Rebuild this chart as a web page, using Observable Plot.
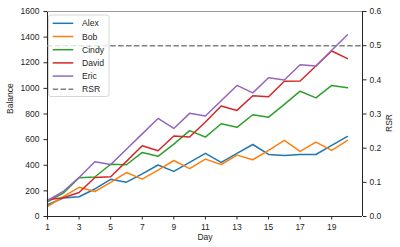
<!DOCTYPE html>
<html><head><meta charset="utf-8">
<script src="https://cdn.jsdelivr.net/npm/d3@7"></script>
<script src="https://cdn.jsdelivr.net/npm/@observablehq/plot@0.6"></script>
<style>html,body{margin:0;padding:0;background:#fff} svg{display:block}</style>
</head><body><div id="chart"></div>
<script>
const days  = [1,2,3,4,5,6,7,8,9,10,11,12,13,14,15,16,17,18,19,20];
const alex  = [92,144,154,215,290,268,333,402,352,422,492,422,492,562,484,477,484,484,555,625];
const bob   = [78,155,228,195,267,343,292,362,437,374,448,406,479,443,516,594,508,581,516,594];
const cindy = [115,182,302,308,408,404,500,470,565,670,620,724,696,794,775,875,978,926,1023,1004];
const david = [130,146,187,305,310,430,552,513,628,620,737,862,828,943,934,1056,1057,1174,1292,1232];
const eric  = [125,195,305,428,405,525,645,765,687,805,784,903,1023,965,1083,1066,1185,1174,1297,1419];
const names  = ["Alex","Bob","Cindy","David","Eric"];
const colors = ["#1f77b4","#ff7f0e","#2ca02c","#d62728","#9467bd"];
const legendNames  = ["Alex","Bob","Cindy","David","Eric","RSR"];
const rsrValue = 0.5;
const xTicks   = [1,3,5,7,9,11,13,15,17,19];
const yTicks   = [0,200,400,600,800,1000,1200,1400,1600];
const rsrTicks = [0,0.1,0.2,0.3,0.4,0.5,0.6];
const yMax = 1600, rsrMax = 0.6, xMax = 20.95;

const series = [alex,bob,cindy,david,eric];
const rows = names.flatMap((n,i) => days.map((d,j) => ({name:n, day:d, value:series[i][j]})));
const toY = r => r * yMax / rsrMax;
const ink = "#262626";

const chart = Plot.plot({
  width: 400, height: 247,
  marginLeft: 47, marginRight: 38, marginTop: 11, marginBottom: 31,
  style: {fontFamily: "'Liberation Sans', Arial, sans-serif", fontSize: "8.5px", color: ink, background: "#fff"},
  x: {domain: [1, xMax]},
  y: {domain: [0, yMax]},
  color: {domain: names, range: colors},
  marks: [
    Plot.axisX(xTicks, {tickSize: 3.5, tickPadding: 3.5, label: null, stroke: ink, tickFormat: d => String(d)}),
    Plot.axisY(yTicks, {anchor: "left", tickSize: 3.5, tickPadding: 4.5, label: null, stroke: ink, tickFormat: d => String(d)}),
    Plot.axisY(rsrTicks.map(toY), {anchor: "right", tickSize: 3.5, tickPadding: 3.5, label: null, stroke: ink,
      tickFormat: d => (d * rsrMax / yMax).toFixed(1)}),
    Plot.lineY(rows, {x: "day", y: "value", stroke: "name", strokeWidth: 1.5}),
    Plot.ruleX([1], {stroke: ink, strokeWidth: 1}),
    Plot.ruleX([xMax], {stroke: ink, strokeWidth: 1}),
    Plot.ruleY([0], {stroke: ink, strokeWidth: 1}),
    Plot.ruleY([yMax], {stroke: "#999", strokeWidth: 1}),
    Plot.text(["Day"], {text: d => d, frameAnchor: "bottom", dy: 21, lineAnchor: "middle", fill: ink}),
    Plot.text(["Balance"], {text: d => d, frameAnchor: "left", rotate: -90, dx: -37.5, fill: ink}),
    Plot.text(["RSR"], {text: d => d, frameAnchor: "right", rotate: -90, dx: 27, fill: ink}),
    Plot.ruleY([toY(rsrValue)], {stroke: "#808080", strokeWidth: 1.5, strokeDasharray: "5.5,2.4", ariaLabel: "rsr-line"})
  ]
});
document.getElementById("chart").appendChild(chart);

// legend (matplotlib-style box, upper left)
const svg = d3.select(chart);
const lg = svg.append("g").attr("aria-label", "legend").attr("text-anchor", "start");
lg.append("rect").attr("x", 48.5).attr("y", 15).attr("width", 60.5).attr("height", 81.5)
  .attr("rx", 2.5).attr("fill", "#fff").attr("fill-opacity", 0.8).attr("stroke", "#ccc").attr("stroke-width", 0.8);
legendNames.forEach((n, i) => {
  const y = 23.3 + i * 13.2;
  const isRsr = n === "RSR";
  lg.append("line").attr("x1", 52.7).attr("x2", 73.3).attr("y1", y).attr("y2", y)
    .attr("stroke", isRsr ? "#808080" : colors[i]).attr("stroke-width", 1.5)
    .attr("stroke-dasharray", isRsr ? "5.5,2.4" : null);
  lg.append("text").attr("x", 82).attr("y", y).attr("dy", "0.35em").attr("text-anchor", "start")
    .attr("font-size", "8.6px").attr("fill", ink).text(n);
});
// the RSR line belongs to the twin axes, drawn over the legend
const rsrLine = chart.querySelector('g[aria-label="rsr-line"]');
if (rsrLine) chart.appendChild(rsrLine);
</script>
</body></html>
